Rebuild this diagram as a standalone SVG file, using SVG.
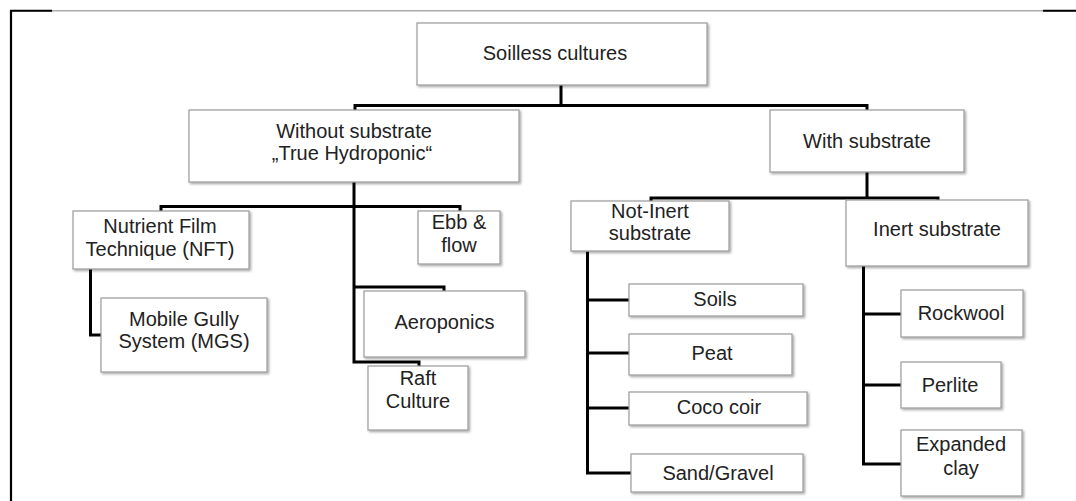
<svg xmlns="http://www.w3.org/2000/svg" width="1076" height="501" viewBox="0 0 1076 501">
<defs>
<filter id="sh" x="-10%" y="-10%" width="130%" height="140%">
<feDropShadow dx="1.5" dy="1.5" stdDeviation="1" flood-color="#000" flood-opacity="0.35"/>
</filter>
<style>
.box{fill:#fff;stroke:#9a9a9a;stroke-width:1.2;filter:url(#sh)}
.t{font-family:"Liberation Sans",Arial,sans-serif;font-size:20px;fill:#222;text-anchor:middle}
.c{fill:none;stroke:#000;stroke-width:3;stroke-linejoin:miter;stroke-linecap:square}
</style>
</defs>
<rect width="1076" height="501" fill="#fff"/>
<g id="frame">
<line x1="10" y1="10.8" x2="1076" y2="10.8" stroke="#aaa" stroke-width="1.5"/>
<line x1="10" y1="10.8" x2="52" y2="10.8" stroke="#000" stroke-width="2"/>
<line x1="1043" y1="10.8" x2="1076" y2="10.8" stroke="#000" stroke-width="2"/>
<line x1="11" y1="10" x2="11" y2="501" stroke="#000" stroke-width="2.2"/>
</g>
<g id="connectors">
<path class="c" d="M561 85 V105.5 M355 110 V105.5 H867 V110"/>
<path class="c" d="M354 182 V362 H419 V366 M161 211 V206.5 H460 V211 M354 287 H444 V291"/>
<path class="c" d="M90.5 269 V335 H101"/>
<path class="c" d="M867 172 V198 M651 201 V198 H938 V200"/>
<path class="c" d="M587.5 253 V473 H631 M587.5 300 H629 M587.5 353 H629 M587.5 408 H629"/>
<path class="c" d="M863.5 266 V464 H901 M863.5 314 H901 M863.5 385 H901"/>
</g>
<g id="soilless"><rect class="box" x="417" y="23" width="290" height="62"/><text class="t" x="555" y="60">Soilless cultures</text></g>
<g id="without"><rect class="box" x="189" y="110" width="330" height="72"/><text class="t" x="354" y="138">Without substrate</text><text class="t" x="352" y="160">„True Hydroponic“</text></g>
<g id="with"><rect class="box" x="770" y="110" width="194" height="62"/><text class="t" x="867" y="148">With substrate</text></g>
<g id="nft"><rect class="box" x="73" y="211" width="176" height="58"/><text class="t" x="160" y="233">Nutrient Film</text><text class="t" x="160" y="256">Technique (NFT)</text></g>
<g id="ebb"><rect class="box" x="418" y="211" width="82" height="53"/><text class="t" x="459" y="229">Ebb &amp;</text><text class="t" x="459" y="252">flow</text></g>
<g id="mgs"><rect class="box" x="101" y="298" width="166" height="74"/><text class="t" x="184" y="326">Mobile Gully</text><text class="t" x="184" y="348">System (MGS)</text></g>
<g id="aero"><rect class="box" x="364" y="291" width="161" height="66"/><text class="t" x="444.5" y="329">Aeroponics</text></g>
<g id="raft"><rect class="box" x="368" y="366" width="100" height="64"/><text class="t" x="418" y="385">Raft</text><text class="t" x="418" y="408">Culture</text></g>
<g id="notinert"><rect class="box" x="571" y="201" width="158" height="50"/><text class="t" x="650" y="218">Not-Inert</text><text class="t" x="650" y="240">substrate</text></g>
<g id="inert"><rect class="box" x="846" y="200" width="182" height="66"/><text class="t" x="937" y="236">Inert substrate</text></g>
<g id="soils"><rect class="box" x="629" y="284" width="174" height="32"/><text class="t" x="715" y="306">Soils</text></g>
<g id="peat"><rect class="box" x="629" y="334" width="163" height="41"/><text class="t" x="712" y="360">Peat</text></g>
<g id="coco"><rect class="box" x="629" y="392" width="178" height="33"/><text class="t" x="719" y="414">Coco coir</text></g>
<g id="sand"><rect class="box" x="631" y="454" width="172" height="38"/><text class="t" x="718" y="480">Sand/Gravel</text></g>
<g id="rockwool"><rect class="box" x="901" y="290" width="122" height="47"/><text class="t" x="961" y="320">Rockwool</text></g>
<g id="perlite"><rect class="box" x="901" y="362" width="100" height="46"/><text class="t" x="950" y="392">Perlite</text></g>
<g id="clay"><rect class="box" x="901" y="430" width="121" height="66"/><text class="t" x="961" y="451">Expanded</text><text class="t" x="961" y="475">clay</text></g>
</svg>
